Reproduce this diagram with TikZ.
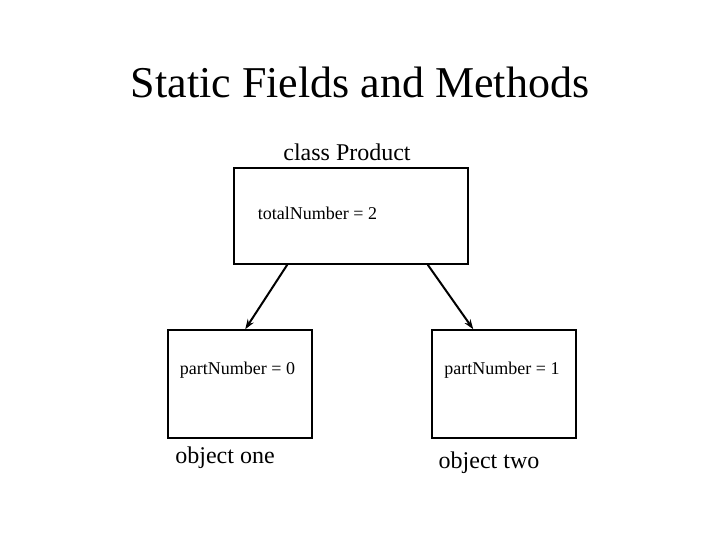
\documentclass[tikz,border=0pt]{standalone}
\usepackage{fontspec}
\setmainfont{Liberation Serif}
\usetikzlibrary{positioning,arrows.meta}
\tikzstyle{box}=[draw,line width=1.5pt,inner sep=0pt]
\tikzstyle{cls}=[box,minimum width=234pt,minimum height=96pt]
\tikzstyle{obj}=[box,minimum width=144pt,minimum height=108pt]
\tikzstyle{fld}=[inner sep=0pt,font=\fontsize{18}{21}\selectfont]
\tikzstyle{lbl}=[inner sep=0pt,font=\fontsize{24}{28}\selectfont]
\tikzstyle{jmp}=[-{Stealth[length=10pt,width=7pt]},line width=2pt]

\begin{document}
\begin{tikzpicture}[x=1pt,y=-1pt]
  \useasboundingbox (0,0) rectangle (720,540);
  \node[inner sep=0pt,font=\fontsize{44}{50}\selectfont] (title) at (360,82) {Static Fields and Methods};
  \node[lbl] (clsname) at (347,152) {class Product};
  \node[cls] (prod) at (351,216) {};
  \node[fld] (total) at (317.5,213) {totalNumber = 2};
  \node[obj] (one) at (240,384) {};
  \node[obj] (two) at (504,384) {};
  \node[fld] (pn0) at (237.5,370) {partNumber = 0};
  \node[fld] (pn1) at (502,370) {partNumber = 1};
  \node[lbl] (oname1) at (225,458) {object one};
  \node[lbl] (oname2) at (489,463) {object two};
  \draw[jmp] ([xshift=54pt]prod.south west) -- ([xshift=78pt]one.north west);
  \draw[jmp] ([xshift=-41pt]prod.south east) -- ([xshift=42pt]two.north west);
\end{tikzpicture}
\end{document}
